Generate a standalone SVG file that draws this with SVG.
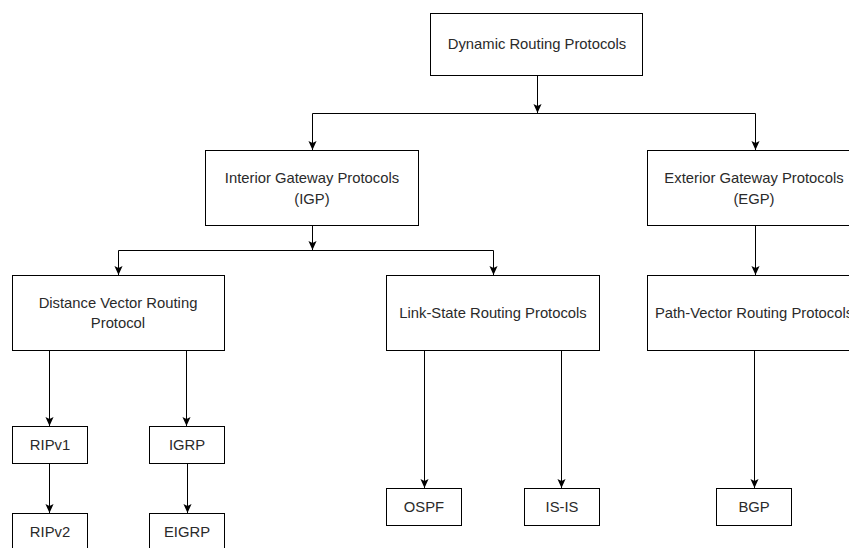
<svg xmlns="http://www.w3.org/2000/svg" width="849" height="548" viewBox="0 0 849 548">
<defs>
<marker id="arr" viewBox="0 0 10 10" refX="10" refY="5" markerWidth="9" markerHeight="9" markerUnits="userSpaceOnUse" orient="auto">
<path d="M0,0.5 L10,5 L0,9.5 L2.2,5 z" fill="#000"/>
</marker>
</defs>
<style>
.box{fill:#fff;stroke:#000;stroke-width:1}
.lbl{font-family:"Liberation Sans",Arial,sans-serif;font-size:14.8px;fill:#2a2a2a;text-anchor:middle;dominant-baseline:central}
.ln{fill:none;stroke:#000;stroke-width:1}
.ar{fill:none;stroke:#000;stroke-width:1;marker-end:url(#arr)}
</style>
<rect width="849" height="548" fill="#fff"/>
<g id="connectors">
<path class="ar" d="M537.5,75.5 V113"/>
<path class="ln" d="M312.5,113.5 H755.5"/>
<path class="ar" d="M312.5,113.5 V150"/>
<path class="ar" d="M755.5,113.5 V150"/>
<path class="ar" d="M312.5,225.5 V250"/>
<path class="ln" d="M118.5,250.5 H493.5"/>
<path class="ar" d="M118.5,250.5 V275"/>
<path class="ar" d="M493.5,250.5 V275"/>
<path class="ar" d="M755.5,225.5 V275"/>
<path class="ar" d="M49.5,350.5 V426"/>
<path class="ar" d="M186.5,350.5 V426"/>
<path class="ar" d="M49.5,463.5 V513"/>
<path class="ar" d="M187.5,463.5 V513"/>
<path class="ar" d="M424.5,350.5 V488"/>
<path class="ar" d="M561.5,350.5 V488"/>
<path class="ar" d="M754.5,350.5 V488"/>
</g>
<g id="node-dynamic">
<rect class="box" x="430.5" y="13.5" width="212" height="62"/>
<text class="lbl" x="537" y="44">Dynamic Routing Protocols</text>
</g>
<g id="node-igp">
<rect class="box" x="205.5" y="150.5" width="213" height="75"/>
<text class="lbl" x="312" y="178">Interior Gateway Protocols</text>
<text class="lbl" x="312" y="199">(IGP)</text>
</g>
<g id="node-egp">
<rect class="box" x="647.5" y="150.5" width="214" height="75"/>
<text class="lbl" x="754" y="178">Exterior Gateway Protocols</text>
<text class="lbl" x="754" y="199">(EGP)</text>
</g>
<g id="node-dv">
<rect class="box" x="12.5" y="275.5" width="212" height="75"/>
<text class="lbl" x="118" y="303">Distance Vector Routing</text>
<text class="lbl" x="118" y="323">Protocol</text>
</g>
<g id="node-ls">
<rect class="box" x="386.5" y="275.5" width="213" height="75"/>
<text class="lbl" x="493" y="313">Link-State Routing Protocols</text>
</g>
<g id="node-pv">
<rect class="box" x="647.5" y="275.5" width="214" height="75"/>
<text class="lbl" x="754" y="313">Path-Vector Routing Protocols</text>
</g>
<g id="node-ripv1">
<rect class="box" x="12.5" y="426.5" width="75" height="37"/>
<text class="lbl" x="50" y="445">RIPv1</text>
</g>
<g id="node-igrp">
<rect class="box" x="149.5" y="426.5" width="75" height="37"/>
<text class="lbl" x="187" y="445">IGRP</text>
</g>
<g id="node-ripv2">
<rect class="box" x="12.5" y="513.5" width="75" height="37"/>
<text class="lbl" x="50" y="532">RIPv2</text>
</g>
<g id="node-eigrp">
<rect class="box" x="149.5" y="513.5" width="75" height="37"/>
<text class="lbl" x="187" y="532">EIGRP</text>
</g>
<g id="node-ospf">
<rect class="box" x="386.5" y="488.5" width="75" height="37"/>
<text class="lbl" x="424" y="507">OSPF</text>
</g>
<g id="node-isis">
<rect class="box" x="524.5" y="488.5" width="75" height="37"/>
<text class="lbl" x="562" y="507">IS-IS</text>
</g>
<g id="node-bgp">
<rect class="box" x="716.5" y="488.5" width="75" height="37"/>
<text class="lbl" x="754" y="507">BGP</text>
</g>
</svg>
